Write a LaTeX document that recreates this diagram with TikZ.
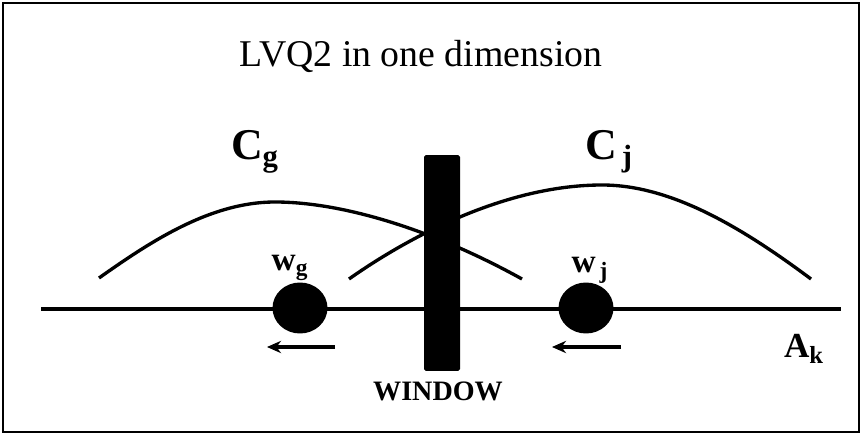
\documentclass[tikz,border=0pt]{standalone}
\usepackage{fontspec}
\setmainfont{Liberation Serif}
\usetikzlibrary{arrows.meta,shapes,positioning}

\begin{document}
\begin{tikzpicture}[x=0.02cm, y=-0.02cm,
  every node/.style={inner sep=0pt},
  bigsub/.style={font=\bfseries\fontsize{25}{27}\selectfont},
  smallsub/.style={font=\bfseries\fontsize{19}{21}\selectfont},
  proto/.style={ellipse, fill=black, minimum width=1.1cm, minimum height=1.02cm},
  moveleft/.style={line width=2pt, -{Stealth[length=8pt,width=7pt]}},
  curve/.style={line width=1.9pt}]
\useasboundingbox (0,0) rectangle (862,435);
\draw[line width=1.4pt] (3,3) rectangle (859,432);

\node[font=\fontsize{21.5}{24}\selectfont] (title) at (421,56) {LVQ2 in one dimension};

% axis and window
\coordinate (axl) at (41,309);
\coordinate (axr) at (841,309);
\draw[line width=1.9pt] (axl) -- (axr);
\node[fill=black, rounded corners=1pt, minimum width=0.72cm, minimum height=4.32cm] (win) at (442,263) {};
\node[font=\bfseries\fontsize{16}{18}\selectfont] (winlabel) at (438,391) {WINDOW};

% class curves
\draw[curve] (99,278) .. controls (150,242) and (210,202) .. (275,202)
  .. controls (340,202) and (430,228) .. (522,279);
\draw[curve] (349,279) .. controls (400,243) and (500,185) .. (602,185)
  .. controls (670,185) and (740,226) .. (811,279);
\node[bigsub] (cg) at (255,152) {C\textsubscript{g}};
\node[bigsub] (cj) at (609,152) {C\textsubscript{\,j}};

% prototypes
\node[proto] (wg) at (300,308) {};
\node[proto] (wj) at (586,308) {};
\node[smallsub] (wglabel) at (290,268) {w\textsubscript{g}};
\node[smallsub] (wjlabel) at (590,270) {w\textsubscript{\,j}};

\coordinate (wgfrom) at (335,347);
\coordinate (wgto) at (267,347);
\coordinate (wjfrom) at (621,347);
\coordinate (wjto) at (552,347);
\draw[moveleft] (wgfrom) -- (wgto);
\draw[moveleft] (wjfrom) -- (wjto);

\node[font=\bfseries\fontsize{20}{22}\selectfont] (ak) at (804,349) {A\textsubscript{k}};
\end{tikzpicture}
\end{document}
